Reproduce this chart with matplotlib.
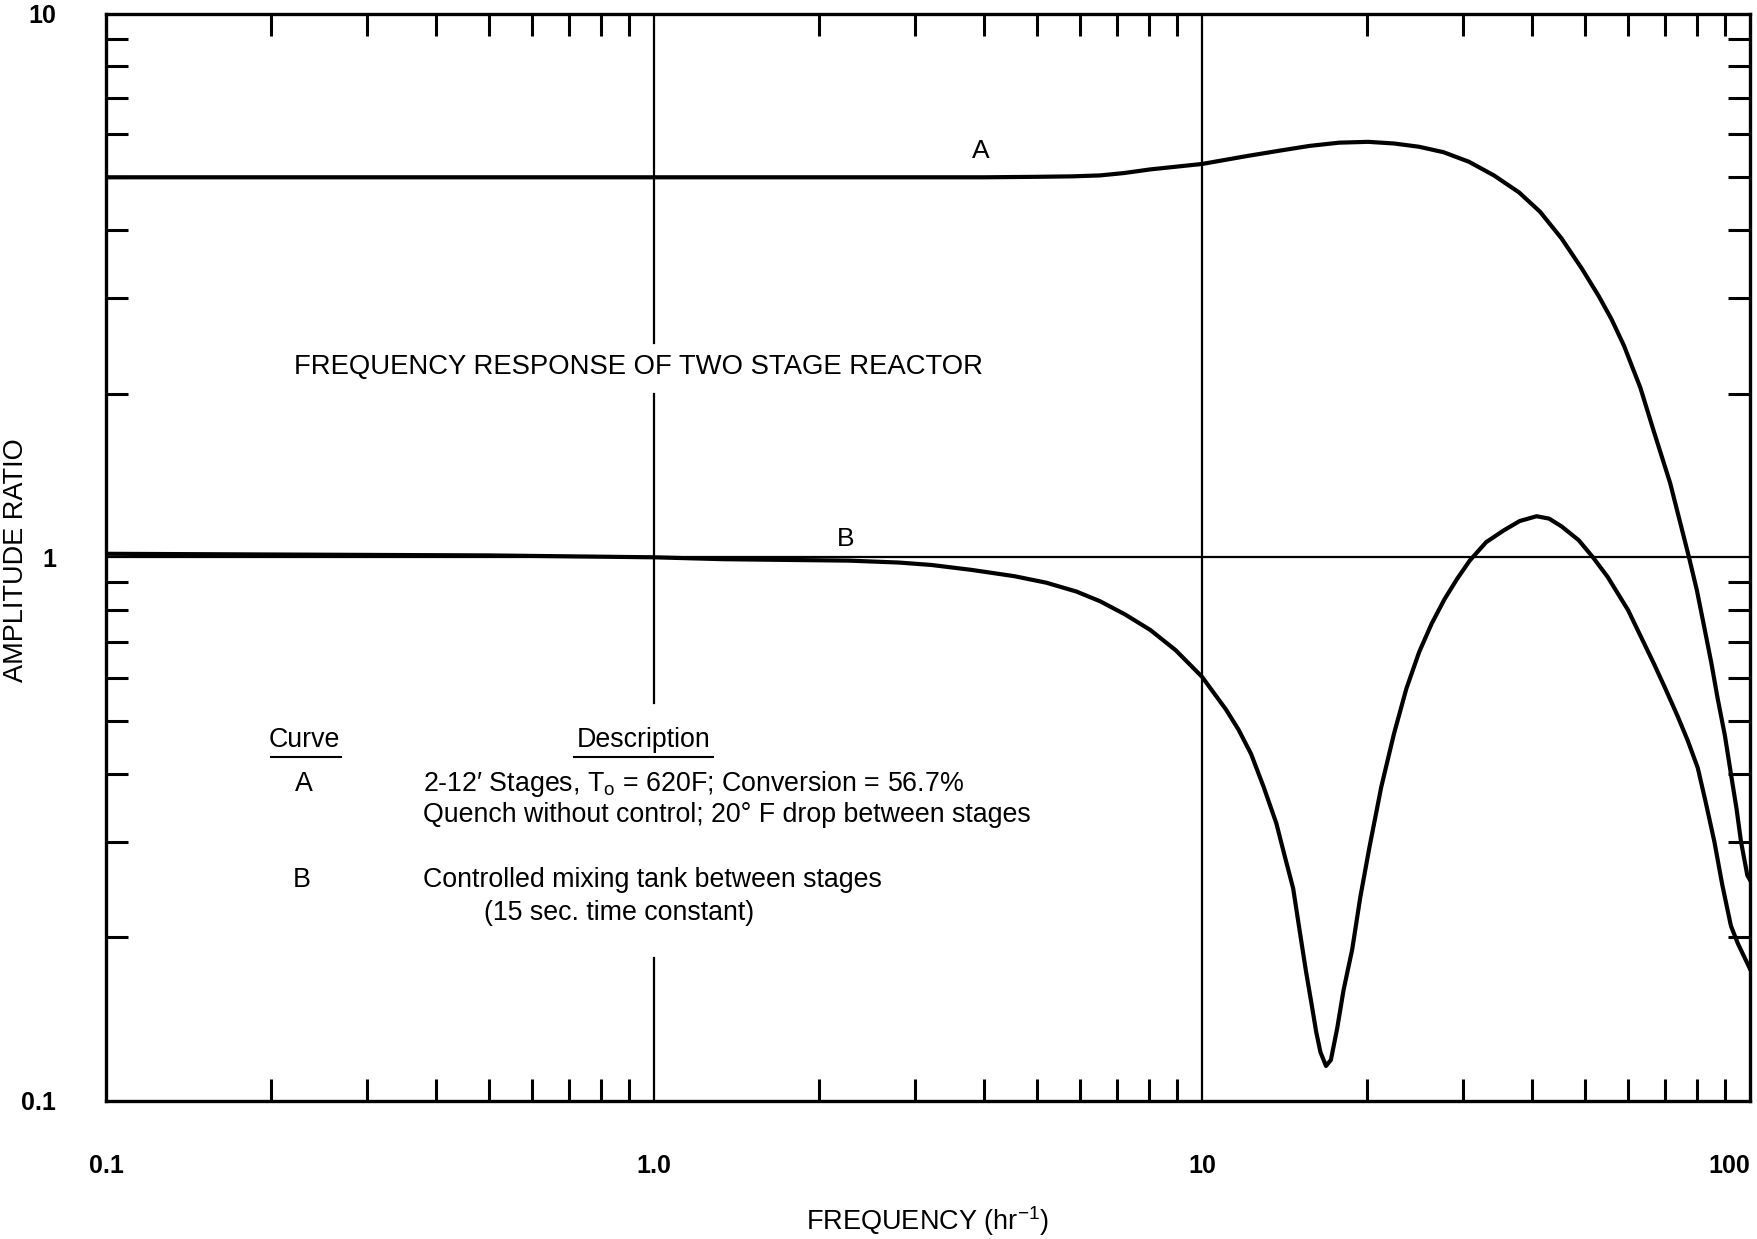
import matplotlib
matplotlib.use("Agg")
import matplotlib.pyplot as plt
from matplotlib.ticker import FixedLocator, NullFormatter

plt.rcParams['font.family'] = ['Liberation Sans', 'DejaVu Sans']

# Curve A: 2-12' stages, quench without control
freq_a = [0.1, 0.3, 1.0, 3.0, 4.0, 5.0, 5.8, 6.52, 7.2, 8.05, 10.0, 12.07,
          13.9, 15.7, 17.8, 20.1, 22.4, 24.9, 27.6, 30.7, 34.1, 37.9, 41.4,
          45.3, 49.4, 53.0, 55.9, 58.9, 63.1, 66.7, 71.5, 77.4, 80.0, 82.5,
          85.0, 87.3, 90.0, 92.3, 94.5, 96.3, 98.9, 100.0]
amp_a = [5.0, 5.0, 5.0, 5.0, 5.0, 5.01, 5.02, 5.04, 5.09, 5.17, 5.29, 5.47,
         5.60, 5.71, 5.79, 5.81, 5.77, 5.69, 5.56, 5.34, 5.04, 4.69, 4.32,
         3.86, 3.39, 3.02, 2.74, 2.45, 2.05, 1.71, 1.37, 1.0, 0.87, 0.745,
         0.64, 0.55, 0.47, 0.40, 0.345, 0.30, 0.26, 0.255]

# Curve B: controlled mixing tank between stages
freq_b = [0.1, 0.5, 1.0, 1.34, 2.27, 2.8, 3.21, 3.8, 4.55, 5.2, 5.9, 6.52,
          7.24, 8.05, 8.95, 10.0, 11.06, 11.66, 12.29, 12.96, 13.67, 14.16,
          14.67, 15.06, 15.47, 15.88, 16.16, 16.45, 16.84, 17.19, 17.65,
          18.13, 18.8, 19.45, 20.2, 21.24, 22.4, 23.6, 24.9, 26.25, 27.7,
          29.2, 30.8, 33.0, 35.5, 38.0, 40.8, 43.0, 45.3, 48.7, 51.7, 55.0,
          59.9, 63.0, 66.9, 70.0, 73.8, 77.0, 80.3, 83.0, 86.1, 89.0, 92.3,
          95.0, 100.0]
amp_b = [1.015, 1.008, 1.0, 0.992, 0.986, 0.978, 0.968, 0.948, 0.923, 0.898,
         0.865, 0.830, 0.785, 0.735, 0.675, 0.603, 0.525, 0.482, 0.435,
         0.378, 0.324, 0.282, 0.246, 0.207, 0.174, 0.149, 0.134, 0.123,
         0.116, 0.119, 0.136, 0.160, 0.190, 0.237, 0.292, 0.378, 0.473,
         0.573, 0.669, 0.755, 0.837, 0.912, 0.986, 1.066, 1.12, 1.166, 1.19,
         1.178, 1.14, 1.075, 1.0, 0.92, 0.80, 0.72, 0.635, 0.575, 0.51, 0.46,
         0.41, 0.355, 0.30, 0.25, 0.21, 0.195, 0.175]

x_ticks = [0.1, 1.0, 10.0, 100.0]
x_tick_labels = ['0.1', '1.0', '10', '100']
y_ticks = [0.1, 1.0, 10.0]
y_tick_labels = ['0.1', '1', '10']

fig = plt.figure(figsize=(17.57, 12.39), dpi=100)
ax = fig.add_axes([0.0603, 0.1114, 0.9357, 0.8776])
ax.set_xscale('log')
ax.set_yscale('log')
ax.set_xlim(0.1, 100)
ax.set_ylim(0.1, 10)

for s in ax.spines.values():
    s.set_linewidth(2.4)

# minor ticks inside on all four sides
minor = [m * 10.0 ** e for e in (-1, 0, 1) for m in range(2, 10)]
ax.xaxis.set_minor_locator(FixedLocator(minor))
ax.yaxis.set_minor_locator(FixedLocator(minor))
ax.xaxis.set_minor_formatter(NullFormatter())
ax.yaxis.set_minor_formatter(NullFormatter())
ax.tick_params(which='minor', direction='in', length=16, width=2.2,
               top=True, right=True)
ax.set_xticks(x_ticks)
ax.set_xticklabels(x_tick_labels)
ax.set_yticks(y_ticks)
ax.set_yticklabels(y_tick_labels)
ax.tick_params(which='major', length=0, top=True, right=True)
ax.tick_params(axis='x', which='major', pad=38)
ax.tick_params(axis='y', which='major', pad=36)
for lab in ax.get_xticklabels() + ax.get_yticklabels():
    lab.set_fontweight('bold')
    lab.set_fontsize(18)
    lab.set_fontfamily(['Liberation Sans Narrow', 'Liberation Sans'])
ax.get_xticklabels()[-1].set_horizontalalignment('right')
ax.get_xticklabels()[-1].set_x(100.0)

# grid lines; the one at 1.0 is broken where the text sits
ax.axhline(1.0, color='black', lw=1.6, zorder=1)
ax.axvline(10.0, color='black', lw=1.6, zorder=1)
for y0, y1 in [(0.0, 0.1318), (0.3656, 0.6499), (0.6972, 1.0)]:
    ax.axvline(1.0, ymin=y0, ymax=y1, color='black', lw=1.6, zorder=1)

ax.plot(freq_a, amp_a, color='black', lw=3.0, zorder=3,
        solid_joinstyle='round')
ax.plot(freq_b, amp_b, color='black', lw=3.0, zorder=3,
        solid_joinstyle='round')

ax.text(3.95, 5.6, 'A', fontsize=19, ha='center', va='center')
ax.text(2.24, 1.08, 'B', fontsize=19, ha='center', va='center')

ax.text(0.1145, 0.6746, 'FREQUENCY RESPONSE OF TWO STAGE REACTOR',
        transform=ax.transAxes, fontsize=19.8, ha='left', va='center')

# description table
fs = 19.3
ax.text(0.1207, 0.3316, 'Curve', transform=ax.transAxes, fontsize=fs,
        ha='center', va='center')
ax.text(0.3272, 0.3316, 'Description', transform=ax.transAxes, fontsize=fs,
        ha='center', va='center')
ax.plot([0.1003, 0.1432], [0.316, 0.316], transform=ax.transAxes,
        color='black', lw=1.5)
ax.plot([0.2849, 0.3695], [0.316, 0.316], transform=ax.transAxes,
        color='black', lw=1.5)
ax.text(0.1207, 0.2915, 'A', transform=ax.transAxes, fontsize=fs,
        ha='center', va='center')
ax.text(0.1929, 0.2915,
        "2-12\u2032 Stages, T$_\\mathregular{o}$ = 620F; Conversion = 56.7%",
        transform=ax.transAxes, fontsize=fs, ha='left', va='center')
ax.text(0.1929, 0.2626,
        'Quench without control; 20\u00b0 F drop between stages',
        transform=ax.transAxes, fontsize=fs, ha='left', va='center')
ax.text(0.1193, 0.2029, 'B', transform=ax.transAxes, fontsize=fs,
        ha='center', va='center')
ax.text(0.1929, 0.2029, 'Controlled mixing tank between stages',
        transform=ax.transAxes, fontsize=fs, ha='left', va='center')
ax.text(0.2297, 0.173, '(15 sec. time constant)',
        transform=ax.transAxes, fontsize=fs, ha='left', va='center')

fig.text(0.528, 1 - 1221 / 1239, 'FREQUENCY (hr$^{\\mathregular{-1}}$)',
         fontsize=19.5, ha='center', va='center')
fig.text(16 / 1757, 1 - 560 / 1239, 'AMPLITUDE RATIO', fontsize=19.5,
         rotation=90, ha='center', va='center')

fig.savefig('out.png', dpi=100)
